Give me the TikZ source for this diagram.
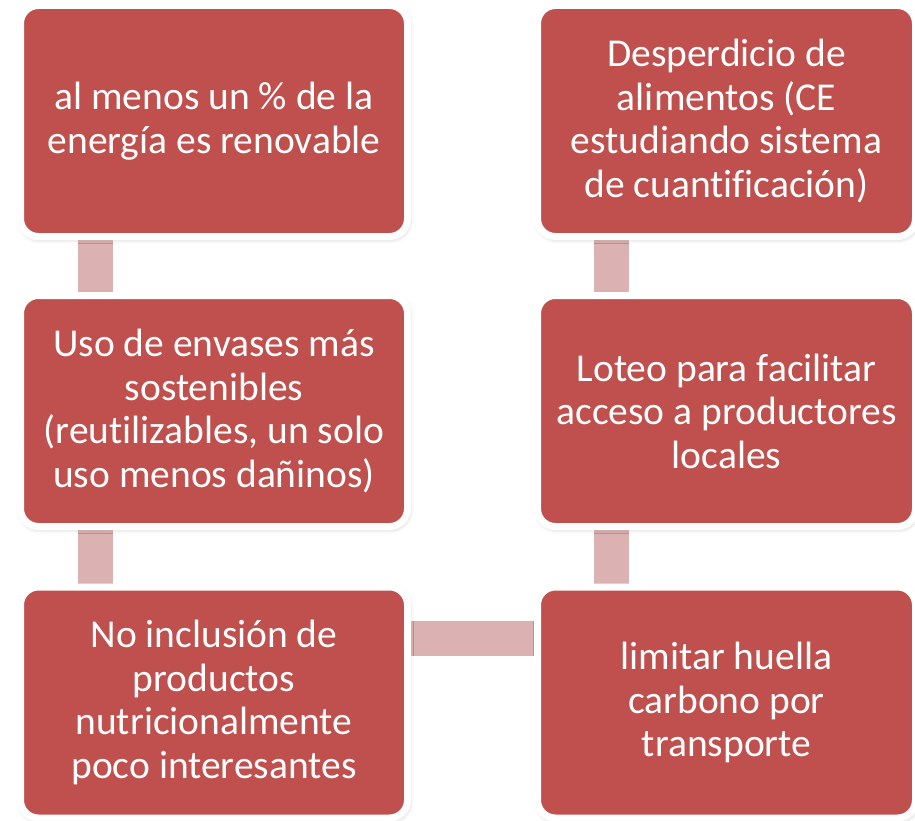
\documentclass[tikz,border=0pt]{standalone}
\usepackage{fontspec}
\setmainfont{Carlito}[Ligatures=NoCommon]
\usetikzlibrary{calc,backgrounds,shadows.blur}
\definecolor{boxred}{HTML}{C0504D}
\definecolor{linkpink}{HTML}{DBB1B1}

\begin{document}
\begin{tikzpicture}[x=1pt,y=-1pt,
    box/.style={draw=white,line width=7pt,fill=boxred,rounded corners=18pt,minimum width=387pt,minimum height=231pt,
      align=center,text=white,font=\fontsize{39.5}{43.5}\selectfont,
      blur shadow={shadow xshift=1pt,shadow yshift=-2pt,shadow blur radius=5pt,shadow opacity=30}},
    link/.style={linkpink,line width=35pt}]
    \useasboundingbox (0,0) rectangle (915,821);
    % left column, top to bottom
    \node[box] (l1) at (214,121) {al menos un \% de la\\energía es renovable};
    \node[box] (l2) at (214,411) {Uso de envases más\\sostenibles\\(reutilizables, un solo\\uso menos dañinos)};
    \node[box] (l3) at (214,702.5) {No inclusión de\\productos\\nutricionalmente\\poco interesantes};
    % right column, bottom to top
    \node[box,minimum width=378pt] (r3) at (726.5,702.5) {limitar huella\\carbono por\\transporte};
    \node[box,minimum width=378pt] (r2) at (726.5,411) {Loteo para facilitar\\acceso a productores\\locales};
    \node[box,minimum width=378pt] (r1) at (726.5,121) {Desperdicio de\\alimentos (CE\\estudiando sistema\\de cuantificación)};
    \begin{scope}[on background layer]
        \draw[link] ($(l1.south west)+(78,0)$) -- ($(l2.north west)+(78,0)$);
        \draw[link] ($(l2.south west)+(78,0)$) -- ($(l3.north west)+(78,0)$);
        \draw[link] ($(l3.north east)+(0,54.5)$) -- ($(r3.north west)+(0,54.5)$);
        \draw[link] ($(r3.north west)+(77,0)$) -- ($(r2.south west)+(77,0)$);
        \draw[link] ($(r2.north west)+(77,0)$) -- ($(r1.south west)+(77,0)$);
    \end{scope}
\end{tikzpicture}
\end{document}
